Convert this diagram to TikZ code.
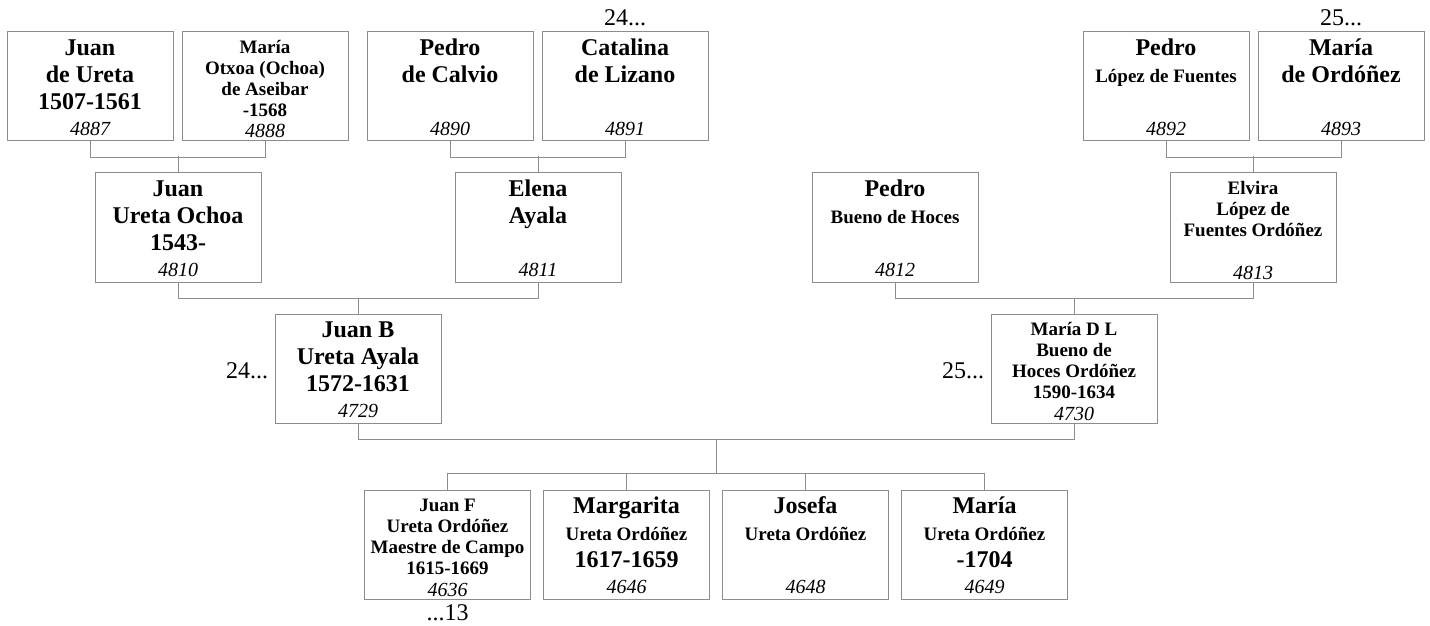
\documentclass[tikz,border=0pt]{standalone}
\usepackage{fontspec}
\setmainfont{Liberation Serif}
\definecolor{treeline}{HTML}{8C8C8C}

% Bold name lines; each carries a strut so the first baseline sits at a fixed depth.
\newcommand{\bigline}[1]{{\fontsize{12}{13.4}\selectfont\bfseries\rule{0pt}{12pt}#1}}
\newcommand{\smallline}[1]{{\fontsize{9.5}{10.5}\selectfont\bfseries\rule{0pt}{10.85pt}#1}}

\begin{document}
\begin{tikzpicture}[
  x=0.5pt,
  y=-0.5pt,
  person/.style={draw=treeline,line width=0.5pt,minimum width=83pt,minimum height=54.5pt,inner sep=0pt},
  names/.style={anchor=north,align=center,inner sep=0pt,
    font={\fontsize{9.5}{10.5}\selectfont\lineskiplimit=-\maxdimen}},
  idnum/.style={anchor=base,inner sep=0pt,font=\fontsize{10}{12}\selectfont\itshape,yshift=#1},
  idnum/.default=2.8pt,
  refnum/.style={inner sep=0pt,font=\fontsize{12}{14}\selectfont},
  link/.style={draw=treeline,line width=0.5pt}
]
  \useasboundingbox (0,0) rectangle (1430,626);

  % Great-grandparents.
  \node[person] (juan) at (90,86.5) {};
  \node[person] (maria) at (265,86.5) {};
  \node[person] (pedro) at (450,86.5) {};
  \node[person] (catalina) at (625,86.5) {};
  \node[person] (pedrol) at (1166,86.5) {};
  \node[person] (mariao) at (1341,86.5) {};

  \node[names] (juan-t) at (juan.north) {\bigline{Juan}\\[2.9pt]\bigline{de Ureta}\\[2.9pt]\bigline{1507-1561}};
  \node[names] (maria-t) at (maria.north) {\smallline{María}\\\smallline{Otxoa (Ochoa)}\\\smallline{de Aseibar}\\\smallline{-1568}};
  \node[names] (pedro-t) at (pedro.north) {\bigline{Pedro}\\[2.9pt]\bigline{de Calvio}};
  \node[names] (catalina-t) at (catalina.north) {\bigline{Catalina}\\[2.9pt]\bigline{de Lizano}};
  \node[names] (pedrol-t) at (pedrol.north) {\bigline{Pedro}\\[2.9pt]\smallline{López de Fuentes}};
  \node[names] (mariao-t) at (mariao.north) {\bigline{María}\\[2.9pt]\bigline{de Ordóñez}};

  \node[idnum] (juan-n) at (juan.south) {4887};
  \node[idnum=2.2pt] (maria-n) at (maria.south) {4888};
  \node[idnum] (pedro-n) at (pedro.south) {4890};
  \node[idnum] (catalina-n) at (catalina.south) {4891};
  \node[idnum] (pedrol-n) at (pedrol.south) {4892};
  \node[idnum] (mariao-n) at (mariao.south) {4893};

  \node[refnum,anchor=base] (catalina-ref) at ([yshift=3pt]catalina.north) {24...};
  \node[refnum,anchor=base] (mariao-ref) at ([yshift=3pt]mariao.north) {25...};

  % Grandparents.
  \node[person] (juano) at (178,227.5) {};
  \node[person] (elena) at (538,227.5) {};
  \node[person] (pedrob) at (895,227.5) {};
  \node[person] (elvira) at (1253,227.5) {};

  \node[names] (juano-t) at (juano.north) {\bigline{Juan}\\[2.9pt]\bigline{Ureta Ochoa}\\[2.9pt]\bigline{1543-}};
  \node[names] (elena-t) at (elena.north) {\bigline{Elena}\\[2.9pt]\bigline{Ayala}};
  \node[names] (pedrob-t) at (pedrob.north) {\bigline{Pedro}\\[2.9pt]\smallline{Bueno de Hoces}};
  \node[names] (elvira-t) at (elvira.north) {\smallline{Elvira}\\\smallline{López de}\\\smallline{Fuentes Ordóñez}};

  \node[idnum] (juano-n) at (juano.south) {4810};
  \node[idnum] (elena-n) at (elena.south) {4811};
  \node[idnum] (pedrob-n) at (pedrob.south) {4812};
  \node[idnum=1.4pt] (elvira-n) at (elvira.south) {4813};

  % Parents.
  \node[person] (juanb) at (358,368.5) {};
  \node[person] (mariadl) at (1074,368.5) {};

  \node[names] (juanb-t) at (juanb.north) {\bigline{Juan B}\\[2.9pt]\bigline{Ureta Ayala}\\[2.9pt]\bigline{1572-1631}};
  \node[names] (mariadl-t) at (mariadl.north) {\smallline{María D L}\\\smallline{Bueno de}\\\smallline{Hoces Ordóñez}\\\smallline{1590-1634}};

  \node[idnum] (juanb-n) at (juanb.south) {4729};
  \node[idnum=1.4pt] (mariadl-n) at (mariadl.south) {4730};

  \node[refnum,anchor=base east] (juanb-ref) at ([xshift=-3pt,yshift=-5pt]juanb.west) {24...};
  \node[refnum,anchor=base east] (mariadl-ref) at ([xshift=-3pt,yshift=-5pt]mariadl.west) {25...};

  % Children.
  \node[person] (juanf) at (447.5,544.5) {};
  \node[person] (margarita) at (626.5,544.5) {};
  \node[person] (josefa) at (805.5,544.5) {};
  \node[person] (mariau) at (984.5,544.5) {};

  \node[names] (juanf-t) at (juanf.north) {\smallline{Juan F}\\\smallline{Ureta Ordóñez}\\\smallline{Maestre de Campo}\\\smallline{1615-1669}};
  \node[names] (margarita-t) at (margarita.north) {\bigline{Margarita}\\[2.9pt]\smallline{Ureta Ordóñez}\\[2.9pt]\bigline{1617-1659}};
  \node[names] (josefa-t) at (josefa.north) {\bigline{Josefa}\\[2.9pt]\smallline{Ureta Ordóñez}};
  \node[names] (mariau-t) at (mariau.north) {\bigline{María}\\[2.9pt]\smallline{Ureta Ordóñez}\\[2.9pt]\bigline{-1704}};

  \node[idnum=1.4pt] (juanf-n) at (juanf.south) {4636};
  \node[idnum] (margarita-n) at (margarita.south) {4646};
  \node[idnum] (josefa-n) at (josefa.south) {4648};
  \node[idnum] (mariau-n) at (mariau.south) {4649};

  \node[refnum,anchor=base] (juanf-ref) at ([yshift=-10.5pt]juanf.south) {...13};

  % Couple bars, each dropping to the child's box.
  \draw[link] (juan.south) -- ++(0,16) -| (maria.south);
  \draw[link] (juano.north) -- ++(0,-16);
  \draw[link] (pedro.south) -- ++(0,16) -| (catalina.south);
  \draw[link] (elena.north) -- ++(0,-16);
  \draw[link] (pedrol.south) -- ++(0,16) -| (mariao.south);
  \draw[link] (elvira.north) -- ++(0,-16);
  \draw[link] (juano.south) -- ++(0,16) -| (elena.south);
  \draw[link] (juanb.north) -- ++(0,-16);
  \draw[link] (pedrob.south) -- ++(0,16) -| (elvira.south);
  \draw[link] (mariadl.north) -- ++(0,-16);

  % Parents to the row of children.
  \coordinate (fam) at (716,439);
  \coordinate (sib) at (716,474);
  \draw[link] (juanb.south) -- ++(0,16) -| (mariadl.south);
  \draw[link] (fam) -- (sib);
  \draw[link] (juanf.north) -- ++(0,-16) -| (mariau.north);
  \foreach \c in {margarita,josefa} {
    \draw[link] (\c.north) -- ++(0,-16);
  }
\end{tikzpicture}
\end{document}
